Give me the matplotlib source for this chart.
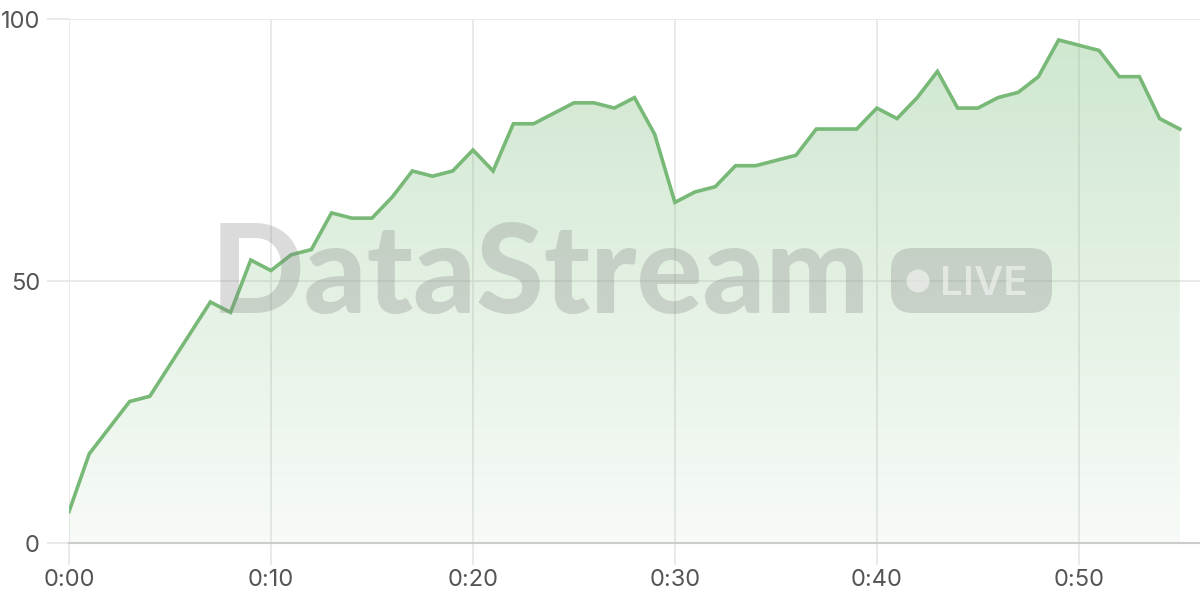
import numpy as np
import matplotlib
matplotlib.use('Agg')
import matplotlib.pyplot as plt
from matplotlib.patches import FancyBboxPatch, Circle, Polygon
from matplotlib.colors import LinearSegmentedColormap

minutes = list(range(56))
values = [6, 17, 22, 27, 28, 34, 40, 46, 44, 54,
          52, 55, 56, 63, 62, 62, 66, 71, 70, 71,
          75, 71, 80, 80, 82, 84, 84, 83, 85, 78,
          65, 67, 68, 72, 72, 73, 74, 79, 79, 79,
          83, 81, 85, 90, 83, 83, 85, 86, 89, 96,
          95, 94, 89, 89, 81, 79]
xticks = [0, 10, 20, 30, 40, 50]
xticklabels = ['0:00', '0:10', '0:20', '0:30', '0:40', '0:50']
yticks = [0, 50, 100]

lineColor = '#78b978'
gridColor = '#e6e6e6'
textColor = '#555555'

def px(x, y):
    # pixel position (from top left) to inches for dpi_scale_trans
    return x / 100, (600 - y) / 100

def main():
    fig = plt.figure(figsize=(12, 6), dpi=100)
    ax = fig.add_axes([69 / 1200, 57 / 600, 1 - 69 / 1200, (543 - 19) / 600])

    # gradient area under the line
    cmap = LinearSegmentedColormap.from_list('fade', [(0.47, 0.73, 0.47, 0.06), (0.47, 0.73, 0.47, 0.36)])
    grad = np.linspace(0, 1, 256).reshape(-1, 1)
    img = ax.imshow(grad, cmap=cmap, origin='lower', aspect='auto',
                    extent=[0, 55, 0, 100], zorder=1)
    poly = Polygon(list(zip(minutes, values)) + [(55, 0), (0, 0)], closed=True,
                   facecolor='none', edgecolor='none')
    ax.add_patch(poly)
    img.set_clip_path(poly)
    ax.set_xlim(0, 56)
    ax.set_ylim(0, 100)

    ax.plot(minutes, values, color=lineColor, linewidth=2.6, zorder=3,
            solid_joinstyle='miter')

    ax.set_xticks(xticks)
    ax.set_xticklabels(xticklabels)
    ax.set_yticks(yticks)
    ax.grid(True, color=gridColor, linewidth=1.2, zorder=0)
    ax.set_axisbelow(True)
    for side in ['top', 'right', 'left']:
        ax.spines[side].set_visible(False)
    ax.spines['bottom'].set_color('#cccccc')
    ax.spines['bottom'].set_linewidth(1.5)
    ax.tick_params(axis='both', length=16, width=1.2, color=gridColor,
                   labelsize=17, labelcolor=textColor, pad=5)
    ax.tick_params(axis='x', pad=3)
    for lab in ax.get_xticklabels() + ax.get_yticklabels():
        lab.set_family('Inter')

    # watermark
    ins = fig.dpi_scale_trans
    wm = fig.text(*px(211, 313), 'DataStream', family='Lato',
                  fontweight='black', fontsize=83, color='#808080', alpha=0.28,
                  ha='left', va='baseline', zorder=10, transform=ins)
    fig.canvas.draw()
    w = wm.get_window_extent().width
    wm.set_fontsize(83 * 659 / w)

    x0, y0 = px(891, 313)
    pill = FancyBboxPatch((x0, y0), 1.61, 0.65,
                          boxstyle='round,pad=0,rounding_size=0.22',
                          transform=ins, facecolor='#808080',
                          edgecolor='none', alpha=0.28, zorder=10)
    fig.patches.append(pill)
    dot = Circle(px(918, 281), 0.115, transform=ins,
                 facecolor='white', edgecolor='none', alpha=0.5, zorder=11)
    fig.patches.append(dot)
    fig.text(*px(940, 295), 'LIVE', family='Inter', fontweight='semibold',
             fontsize=29, color='white', alpha=0.5, ha='left', va='baseline',
             zorder=11, transform=ins)

    fig.savefig('out.png', dpi=100)

if __name__ == '__main__':
    main()
